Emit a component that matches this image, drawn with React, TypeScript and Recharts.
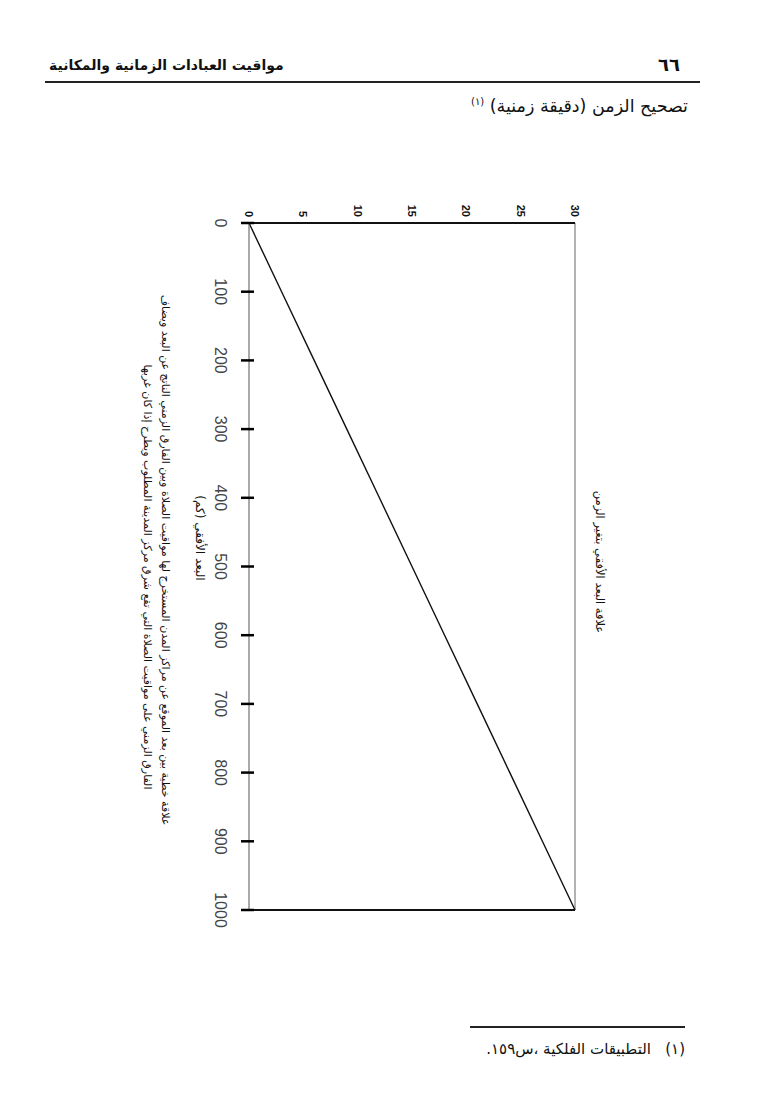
import React from "react";
import {
  LineChart,
  Line,
  XAxis,
  YAxis,
  ReferenceLine,
} from "recharts";

// horizontal distance from the city centre (km)
const distances = [0, 100, 200, 300, 400, 500, 600, 700, 800, 900, 1000];
// time correction (minutes)
const corrections = [0, 3, 6, 9, 12, 15, 18, 21, 24, 27, 30];
const correctionTicks = [0, 5, 10, 15, 20, 25, 30];

const chartTitle = "علاقة البعد الأفقي بتغير الزمن";
const xAxisTitle = "البعد الأفقي (كم)";
const captionLines = [
  "علاقة خطية بين بعد الموقع عن مراكز المدن المستخرج لها مواقيت الصلاة وبين الفارق الزمني الناتج عن البعد ويضاف",
  "الفارق الزمني على مواقيت الصلاة التي تقع شرق مركز المدينة المطلوب ويطرح إذا كان غربها",
];

const data = distances.map((d, i) => ({ distance: d, correction: corrections[i] }));

const arabicFont = "'DejaVu Sans', sans-serif";

// km labels plus the little cross marks printed over the axis
function DistanceTick(props: any) {
  const { x, y, payload } = props;
  return (
    <g>
      <path
        d={`M${x},${y - 5}L${x},${y + 8}`}
        stroke="#000"
        strokeWidth={2.5}
        fill="none"
      />
      <text
        x={x}
        y={y + 29}
        textAnchor="middle"
        dominantBaseline="central"
        fontFamily="'Liberation Sans', sans-serif"
        fontSize={16}
        fill="#444"
      >
        {payload.value}
      </text>
    </g>
  );
}

function CorrectionTick(props: any) {
  const { x, y, payload } = props;
  return (
    <text
      x={x - 6}
      y={y}
      textAnchor="end"
      dominantBaseline="central"
      fontFamily="'Liberation Sans', sans-serif"
      fontWeight="bold"
      fontSize={11}
      fill="#111"
    >
      {payload.value}
    </text>
  );
}

const rotatedText = (
  text: string,
  u: number,
  v: number,
  size: number,
  weight: string | number = "normal"
) => (
  <div
    style={{
      position: "absolute",
      left: u,
      top: v,
      transform: "translate(-50%, -50%)",
      whiteSpace: "nowrap",
      direction: "rtl",
      fontFamily: arabicFont,
      fontSize: size,
      fontWeight: weight as any,
      color: "#111",
    }}
  >
    {text}
  </div>
);

export default function App() {
  return (
    <div
      style={{
        position: "absolute",
        left: 0,
        top: 0,
        width: 760,
        height: 1095,
        background: "#fff",
        fontFamily: arabicFont,
        color: "#111",
      }}
    >
      {/* running header */}
      <div
        style={{
          position: "absolute",
          left: 49,
          top: 57,
          fontSize: 14,
          fontWeight: "bold",
          direction: "rtl",
          whiteSpace: "nowrap",
        }}
      >
        مواقيت العبادات الزمانية والمكانية
      </div>
      <div
        style={{
          position: "absolute",
          right: 80,
          top: 54,
          fontSize: 18,
          fontWeight: "bold",
        }}
      >
        ٦٦
      </div>
      <div
        style={{
          position: "absolute",
          left: 45,
          top: 81,
          width: 655,
          height: 2,
          background: "#222",
        }}
      />
      <div
        style={{
          position: "absolute",
          right: 72,
          top: 96,
          fontSize: 17.5,
          direction: "rtl",
          whiteSpace: "nowrap",
        }}
      >
        تصحيح الزمن (دقيقة زمنية){"  "}
        <span style={{ fontSize: 10, verticalAlign: "super" }}>(١)</span>
      </div>

      {/* chart, turned a quarter clockwise like the printed page */}
      <div
        style={{
          position: "absolute",
          left: 640,
          top: 150,
          width: 850,
          height: 540,
          transform: "rotate(90deg)",
          transformOrigin: "0 0",
        }}
      >
        <LineChart
          width={850}
          height={540}
          data={data}
          margin={{ top: 65, right: 90, bottom: 119, left: 43 }}
        >
          <XAxis
            dataKey="distance"
            type="number"
            domain={[0, 1000]}
            ticks={distances}
            height={30}
            tickSize={0}
            tickMargin={0}
            tickLine={false}
            axisLine={{ stroke: "#555", strokeWidth: 1 }}
            tick={DistanceTick}
          />
          <YAxis
            type="number"
            domain={[0, 30]}
            ticks={correctionTicks}
            width={30}
            tickSize={0}
            tickMargin={0}
            tickLine={false}
            axisLine={{ stroke: "#111", strokeWidth: 2 }}
            tick={CorrectionTick}
          />
          <ReferenceLine x={1000} stroke="#111" strokeWidth={2} />
          <ReferenceLine y={30} stroke="#666" strokeWidth={1} />
          <Line
            type="linear"
            dataKey="correction"
            stroke="#111"
            strokeWidth={1.4}
            dot={false}
            isAnimationActive={false}
          />
        </LineChart>
        {rotatedText(chartTitle, 412, 40, 11.5)}
        {rotatedText(xAxisTitle, 388, 440, 12)}
        {rotatedText(captionLines[0], 410, 475, 11)}
        {rotatedText(captionLines[1], 427, 493, 11)}
      </div>

      {/* footnote */}
      <div
        style={{
          position: "absolute",
          left: 470,
          top: 1026,
          width: 215,
          height: 2,
          background: "#222",
        }}
      />
      <div
        style={{
          position: "absolute",
          right: 75,
          top: 1040,
          fontSize: 15,
          direction: "rtl",
          whiteSpace: "pre",
        }}
      >
        {"(١)   التطبيقات الفلكية ،س١٥٩."}
      </div>
    </div>
  );
}
